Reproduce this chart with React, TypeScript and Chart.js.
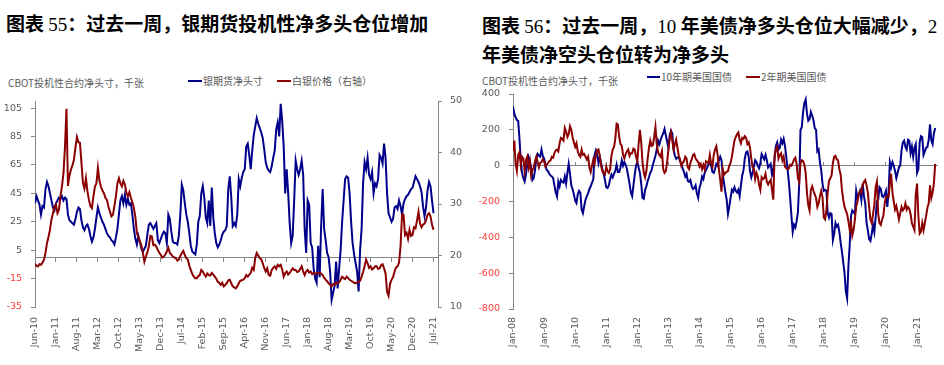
import React, { useEffect, useRef } from 'react';
import { Chart, registerables } from 'chart.js';

Chart.register(...registerables);

// Values are sampled twice a month (index / 2 = months since the first label).
const SAMPLES_PER_MONTH = 2;

// ---------- Chart 55: silver ----------
const silverTickLabels = [
  'Jun-10', 'Jan-11', 'Aug-11', 'Mar-12', 'Oct-12', 'May-13', 'Dec-13', 'Jul-14', 'Feb-15', 'Sep-15',
  'Apr-16', 'Nov-16', 'Jun-17', 'Jan-18', 'Aug-18', 'Mar-19', 'Oct-19', 'May-20', 'Dec-20', 'Jul-21',
];
const silverTickStepMonths = 7;
const silverLeftTicks = [-35, -15, 5, 25, 45, 65, 85, 105];
// 银期货净头寸, 千张 (Jun-10 .. Jul-21)
const silverNetLong = [
  38, 43, 40, 37, 30, 36, 35, 48, 53, 50,
  45, 40, 35, 33, 38, 40, 42, 41, 43, 40,
  42, 41, 30, 26, 25, 24, 23, 27, 32, 35,
  34, 26, 21, 19, 22, 23, 20, 15, 11, 14,
  20, 28, 35, 31, 28, 25, 23, 20, 17, 15,
  14, 12, 11, 9, 14, 20, 30, 40, 43, 38,
  44, 37, 41, 37, 38, 30, 20, 13, 9, 15,
  11, 6, 4, 6, 8, 16, 23, 24, 22, 20,
  22, 24, 12, 10, 13, 16, 18, 17, 10, 30,
  27, 18, 11, 10, 10, 9, 15, 30, 51, 47,
  38, 30, 25, 17, 8, 4, 3, 2, 9, 25,
  29, 45, 50, 42, 28, 24, 40, 22, 49, 28,
  17, 10, 7, 9, 12, 16, 18, 19, 22, 48,
  57, 42, 22, 24, 22, 30, 55, 50, 56, 60,
  62, 78, 80, 72, 62, 75, 86, 92, 98, 94,
  91, 88, 84, 76, 67, 63, 61, 60, 64, 70,
  75, 90, 95, 85, 108, 96, 78, 45, 62, 45,
  24, 10, 15, 40, 68, 62, 58, 62, 68, 58,
  20, 3, 40, 37, 10, 7, -8, -15, -18, 8,
  -14, 22, 48, 20, 12, 3, 0, -10, -30, -25,
  -20, -3, -22, -8, 5, 25, 40, 55, 57, 56,
  45, 25, 10, 2, -4, -10, -24, 5, 20, 52,
  67, 62, 70, 58, 55, 60, 45, 52, 50, 55,
  72, 70, 66, 80, 70, 45, 31, 28, 25, 27,
  35, 36, 34, 40, 36, 30, 38, 41, 43, 44,
  46, 48, 49, 53, 57, 55, 53, 50, 46, 36,
  29, 35, 47, 53, 50, 40,
  31,
];
// 白银价格（右轴）, 美元/盎司
const silverPrice = [
  18.4, 18.0, 17.9, 18.3, 18.2, 18.6, 19.2, 20.5, 22.4, 23.6,
  25, 27, 28.2, 29.5, 29.9, 28.2, 28.9, 31.5, 33.4, 36,
  41, 48.5, 33.5, 35.5, 36.7, 37.5, 38.6, 41, 43, 42,
  41.9, 38, 34.1, 33, 35, 32.5, 30.8, 29.6, 29.2, 31.5,
  33.4, 34, 37, 34.5, 33.4, 32.6, 32.1, 31.2, 30.8, 29.5,
  28.6, 27.6, 27.9, 29.6, 31.5, 34, 35, 34, 33.4, 34.5,
  33.8, 32.2, 31.5, 32.3, 31.2, 30.4, 29.2, 27.5, 24.4, 23.5,
  22.7, 22, 20.5, 18.8, 19.8, 20.6, 21.8, 23.8, 23.7, 22,
  22.1, 21.7, 21.1, 20.5, 20.1, 19.6, 19.8, 20.2, 20.8, 21.5,
  20.5, 20.2, 19.8, 19.6, 19.5, 19, 19.2, 19.9, 20.5, 20.9,
  20.1, 19.5, 19.2, 18, 17.2, 16.4, 15.9, 15.6, 15.6, 16,
  16.2, 17.2, 16.9, 16.3, 15.9, 16.5, 16.2, 16.1, 16.6, 16.3,
  15.9, 15.5, 14.9, 14.7, 14.3, 14.7, 14, 14.3, 14.6, 15.2,
  15.3, 14.6, 14, 13.8, 13.6, 14, 14.6, 15.1, 15.2, 15.3,
  15.6, 16.2, 15.9, 16.3, 16.6, 17.6, 17.2, 19.5, 20.5, 20,
  19.5, 19.3, 18.5, 17.6, 16.9, 17.5, 16.2, 16.1, 17.2, 17.6,
  17.9, 17.4, 18.2, 17.9, 18.2, 17.3, 15.9, 16.6, 16.9, 16.3,
  16.6, 17.1, 17.5, 17.2, 17.2, 16.8, 16.9, 17.4, 17.9, 16.9,
  16.2, 16.9, 17.2, 16.7, 16.9, 16.4, 16.6, 16.4, 16.6, 16.5,
  16.6, 16.5, 16.2, 15.7, 15.3, 15, 14.6, 14.3, 14, 14.5,
  14.3, 14.7, 14.6, 14.8, 15.3, 15.9, 15.6, 15.4, 15.9, 15.6,
  15.3, 15.1, 14.9, 14.7, 14.6, 14.8, 14.9, 15.1, 15.9, 16.8,
  17.9, 19.2, 18.5, 17.6, 17.9, 17.3, 17.5, 17.9, 17.9, 17.4,
  17.5, 18.1, 18.3, 17.5, 16.5, 13, 12.2, 14.5, 15.3, 15.8,
  16.9, 17.7, 17.9, 18.6, 21.8, 28, 27.9, 24, 24.4, 23.2,
  25, 23.8, 24, 25.5, 25.3, 26.8, 28.5, 26.2, 25.5, 26,
  26.2, 26.8, 27.9, 28.2, 27.6, 26,
  25,
];

// ---------- Chart 56: US Treasuries ----------
const ustTickLabels = [
  'Jan-08', 'Jan-09', 'Jan-10', 'Jan-11', 'Jan-12', 'Jan-13', 'Jan-14',
  'Jan-15', 'Jan-16', 'Jan-17', 'Jan-18', 'Jan-19', 'Jan-20', 'Jan-21',
];
const ustTickStepMonths = 12;
// 10年期美国国债, 千张 (Jan-08 .. Aug-21)
const ust10y = [
  330, 290, 270, 255, 250, 150, 30, -40, -70, -88,
  -50, 10, 50, 30, -15, -80, -70, -25, 40, 65,
  55, 50, 90, 55, 40, 10, -25, -30, -45, -55,
  -60, -70, -110, -150, -172, -90, -115, -80, -90, -95,
  -60, -100, -40, 10, -45, -110, -130, -160, -195, -209,
  -160, -140, -150, -245, -265, -225, -190, -170, -155, -130,
  -115, -95, -78, 60, 85, 60, 15, 50, 15, -20,
  -45, -80, -120, -125, -110, -75, -50, -65, -45, -30,
  5, -35, -35, -10, 30, 0, 20, 5, -20, -60,
  -100, -150, -170, -110, -50, 0, 20, -10, -40, -100,
  -180, -185, -135, -115, -85, -65, -40, -25, 5, 30,
  55, 90, 140, 120, 145, 165, 180, 205, 170, 135,
  100, 170, 195, 180, 90, 55, 38, 45, 45, 25,
  5, -15, -35, -60, -45, -85, -90, -80, -115, -130,
  -125, -110, -155, -180, -125, -100, -60, -75, -40, -25,
  -10, 10, 22, 0, -35, -40, -20, 10, 0, 30,
  50, 30, -50, -100, -150, -190, -270, -230, -180, -135,
  -145, -120, -140, -150, -135, -170, -110, -55, -25, 40,
  75, 80, 50, -30, -65, -40, -5, 30, 20, 0,
  -15, 15, 65, 50, 35, 60, 30, -10, 0, 10,
  -50, -20, 40, 110, 130, 90, 100, 145, 125, 150,
  110, 50, -20, -90, -180, -280, -370, -330, -345, -310,
  -260, -100, 200, 215, 300, 350, 370, 290, 250, 260,
  300, 280, 255, 210, 200, 80, 90, 20, -25, -100,
  -140, -135, -140, -265, -290, -265, -270, -415, -380, -320,
  -340, -330, -370, -430, -480, -540, -600, -700, -740, -560,
  -440, -280, -250, -260, -270, -140, -180, -160, -140, -190,
  -100, -170, -210, -320, -360, -410, -420, -380, -330, -370,
  -290, -200, -190, -120, -130, -170, -175, -160, -140, -230,
  -150, 20, -10, 20, 0, -30, -70, -40, -10, 0,
  85, 130, 140, 105, 90, 145, 140, 70, 105, 50,
  100, 120, -40, -20, 130, 165, 160, 60, 80, 100,
  105, 145, 230, 140, 120, 180,
  210,
];
// 2年期美国国债, 千张
const ust2y = [
  80, 140, 10, -30, 60, 75, 5, 50, 40, -30,
  30, 50, -10, 25, -55, -25, -10, 25, 50, 20,
  -10, 15, 20, 35, 25, -5, 5, 15, 25, 30,
  50, 45, 70, 85, 90, 80, 125, 155, 150, 140,
  210, 190, 160, 175, 220, 200, 160, 130, 105, 125,
  80, 60, 50, 90, 60, 65, 50, 35, 50, -10,
  -35, 0, 35, 10, 60, 85, 90, 55, 0, -30,
  -45, -50, -5, -30, -40, -20, 55, 90, 105, 150,
  235, 230, 160, 120, 110, 60, 40, 65, 80, 90,
  55, 70, 70, 95, 90, 50, 25, 120, 200, 130,
  20, -40, -65, -30, 40, 100, 140, 110, 115, 160,
  215, 120, 75, 60, 50, 80, -20, -40, -30, 20,
  90, 150, 185, 140, 90, 120, 145, 100, 55, 35,
  0, 15, 25, 50, 40, -10, -20, 15, 35, 60,
  65, 40, 30, 20, -5, 10, -20, 5, -20, 25,
  20, 15, 60, 10, -5, 60, 90, 108, 60, -20,
  -80, -145, -20, -50, -40, -35, -30, 0, 15, 50,
  95, 140, 160, 175, 185, 145, 125, 155, 150, 165,
  155, 120, 130, 100, 40, -10, -20, -75, -40, -60,
  -105, -135, -65, -75, -70, -45, -90, -105, -90, -80,
  -135, -190, 60, 90, 105, 40, 60, 70, 30, 50,
  -5, -15, -20, -15, 5, 0, 15, 35, 45, 10,
  -70, -90, 15, 30, 25, 5, -40, -150, -220, -250,
  -135, -115, -140, -160, -180, -230, -210, -170, -140, -175,
  -290, -300, -250, -150, -85, -70, -55, 15, 50, 55,
  35, 30, -20, -50, -135, -190, -230, -250, -270, -310,
  -360, -320, -390, -360, -300, -230, -200, -160, -140, -150,
  -110, -90, -80, -110, -150, -230, -300, -320, -270, -220,
  -120, -90, -270, -320, -330, -300, -280, -210, -175, -170,
  -175, -100, -45, -150, -200, -245, -225, -260, -300, -265,
  -230, -250, -240, -210, -245, -230, -240, -270, -320, -340,
  -360, -160, -100, -280, -380, -370, -320, -360, -320, -280,
  -235, -210, -110, -180, -150, -100,
  10,
];

// ---------- styles ----------
const AXIS_GREY = '#868686';
const LABEL_GREY = '#595959';
const NEG_RED = '#ff3b3b';
const BLUE = '#00008b';
const RED = '#8b0000';
const TICK_FONT = '"DejaVu Sans", sans-serif';
const CJK = '"Noto Sans CJK SC", "Noto Sans", sans-serif';
const SERIF = '"Liberation Serif", "DejaVu Serif", serif';

const toPoints = (values: number[]) => values.map((y, i) => ({ x: i / SAMPLES_PER_MONTH, y }));
const setTicks = (values: number[]) => (scale: any) => {
  scale.ticks = values.map((value) => ({ value }));
};

function lineDataset(label: string, values: number[], color: string, yAxisID: string, order: number) {
  return {
    label,
    data: toPoints(values),
    borderColor: color,
    backgroundColor: color,
    borderWidth: 2,
    pointRadius: 0,
    tension: 0,
    xAxisID: 'x',
    yAxisID,
    order,
  };
}

function silverConfig(): any {
  const tickMonths = silverTickLabels.map((_, i) => i * silverTickStepMonths);
  const xMax = 134.5;
  return {
    type: 'line',
    data: {
      datasets: [
        lineDataset('银期货净头寸', silverNetLong, BLUE, 'y', 1),
        lineDataset('白银价格（右轴）', silverPrice, RED, 'y1', 0),
      ],
    },
    options: {
      animation: false,
      responsive: false,
      maintainAspectRatio: false,
      layout: { padding: { top: 16, right: 0, left: 0, bottom: 0 } },
      plugins: { legend: { display: false }, tooltip: { enabled: false } },
      scales: {
        x: {
          type: 'linear',
          min: 0,
          max: xMax,
          position: { y: 0 },
          ticks: { display: false },
          grid: { drawOnChartArea: false, drawTicks: true, tickLength: 4, color: AXIS_GREY },
          border: { color: AXIS_GREY, width: 1 },
          afterBuildTicks: setTicks(tickMonths),
        },
        xb: {
          type: 'linear',
          position: 'bottom',
          min: 0,
          max: xMax,
          grid: { display: false, drawTicks: false },
          border: { display: false },
          ticks: {
            autoSkip: false,
            minRotation: 90,
            maxRotation: 90,
            padding: 10,
            color: LABEL_GREY,
            font: { family: TICK_FONT, size: 9.5 },
            callback: (_v: any, i: number) => silverTickLabels[i],
          },
          afterBuildTicks: setTicks(tickMonths),
          afterFit: (s: any) => { s.height = 58; },
        },
        y: {
          type: 'linear',
          position: 'left',
          min: -35,
          max: 110,
          afterBuildTicks: setTicks(silverLeftTicks),
          grid: { drawOnChartArea: false, drawTicks: true, tickLength: 4, color: AXIS_GREY },
          border: { color: AXIS_GREY },
          ticks: {
            padding: 9,
            color: (c: any) => (c.tick && c.tick.value < 0 ? NEG_RED : LABEL_GREY),
            font: { family: TICK_FONT, size: 9.5 },
          },
          afterFit: (s: any) => { s.width = 35; },
        },
        y1: {
          type: 'linear',
          position: 'right',
          min: 10,
          max: 50,
          ticks: { stepSize: 10, padding: 8, color: LABEL_GREY, font: { family: TICK_FONT, size: 9.5 } },
          grid: { drawOnChartArea: false, drawTicks: true, tickLength: 4, color: AXIS_GREY },
          border: { color: AXIS_GREY },
          afterFit: (s: any) => { s.width = 32; },
        },
      },
    },
  };
}

function ustConfig(): any {
  const tickMonths = ustTickLabels.map((_, i) => i * ustTickStepMonths);
  const xMax = 163.7;
  return {
    type: 'line',
    data: {
      datasets: [
        lineDataset('10年期美国国债', ust10y, BLUE, 'y', 1),
        lineDataset('2年期美国国债', ust2y, RED, 'y', 0),
      ],
    },
    options: {
      animation: false,
      responsive: false,
      maintainAspectRatio: false,
      layout: { padding: { top: 15, right: 7, left: 0, bottom: 0 } },
      plugins: { legend: { display: false }, tooltip: { enabled: false } },
      scales: {
        x: {
          type: 'linear',
          min: 0,
          max: xMax,
          position: { y: 0 },
          ticks: { display: false },
          grid: { drawOnChartArea: false, drawTicks: true, tickLength: -4, color: AXIS_GREY },
          border: { color: AXIS_GREY, width: 1 },
          afterBuildTicks: setTicks(tickMonths),
        },
        xb: {
          type: 'linear',
          position: 'bottom',
          min: 0,
          max: xMax,
          grid: { display: false, drawTicks: false },
          border: { display: false },
          ticks: {
            autoSkip: false,
            minRotation: 90,
            maxRotation: 90,
            padding: 8,
            color: LABEL_GREY,
            font: { family: TICK_FONT, size: 9.5 },
            callback: (_v: any, i: number) => ustTickLabels[i],
          },
          afterBuildTicks: setTicks(tickMonths),
          afterFit: (s: any) => { s.height = 56; },
        },
        y: {
          type: 'linear',
          position: 'left',
          min: -800,
          max: 400,
          ticks: {
            stepSize: 200,
            padding: 9,
            color: (c: any) => (c.tick && c.tick.value < 0 ? NEG_RED : LABEL_GREY),
            font: { family: TICK_FONT, size: 9.5 },
          },
          grid: { drawOnChartArea: false, drawTicks: true, tickLength: 4, color: AXIS_GREY },
          border: { color: AXIS_GREY },
          afterFit: (s: any) => { s.width = 43; },
        },
      },
    },
  };
}

function ChartCanvas({ makeConfig, left, top, width, height }: any) {
  const ref = useRef<HTMLCanvasElement | null>(null);
  useEffect(() => {
    if (!ref.current) return;
    const chart = new Chart(ref.current, makeConfig());
    return () => chart.destroy();
  }, [makeConfig]);
  return (
    <canvas
      ref={ref}
      width={width}
      height={height}
      style={{ position: 'absolute', left, top, width, height }}
    />
  );
}

const smallText = (left: number, center: number): React.CSSProperties => ({
  position: 'absolute',
  left,
  top: center - 7,
  fontSize: 10,
  lineHeight: '14px',
  color: LABEL_GREY,
  fontFamily: CJK,
  whiteSpace: 'nowrap',
});

const swatch = (left: number, center: number, width: number, color: string): React.CSSProperties => ({
  position: 'absolute',
  left,
  top: center - 1.25,
  width,
  height: 2.5,
  background: color,
});

const titleStyle = (left: number, top: number): React.CSSProperties => ({
  position: 'absolute',
  left,
  top,
  fontSize: 19,
  lineHeight: '26.5px',
  fontWeight: 700,
  color: '#000',
  fontFamily: CJK,
  whiteSpace: 'nowrap',
});

const num: React.CSSProperties = { fontFamily: SERIF, fontWeight: 400 };

export default function App() {
  return (
    <div
      style={{
        position: 'fixed',
        left: 0,
        top: 0,
        width: 944,
        height: 365,
        background: '#ffffff',
        overflow: 'hidden',
      }}
    >
      {/* Left chart */}
      <div style={titleStyle(6, 10)}>
        图表 <span style={num}>55</span>：过去一周，银期货投机性净多头仓位增加
      </div>
      <div style={smallText(8, 83)}>CBOT投机性合约净头寸，千张</div>
      <div style={swatch(188, 81, 14, BLUE)} />
      <div style={smallText(203, 81)}>银期货净头寸</div>
      <div style={swatch(277, 81, 14, RED)} />
      <div style={smallText(292, 81)}>白银价格（右轴）</div>
      <ChartCanvas makeConfig={silverConfig} left={0} top={85} width={470} height={280} />

      {/* Right chart */}
      <div style={titleStyle(482, 12)}>
        图表 <span style={num}>56</span>：过去一周，<span style={num}>10</span> 年美债净多头仓位大幅减少，<span style={num}>2</span>
        <br />
        年美债净空头仓位转为净多头
      </div>
      <div style={smallText(482, 81)}>CBOT投机性合约净头寸，千张</div>
      <div style={swatch(647, 77, 13, BLUE)} />
      <div style={smallText(661, 77)}>10年期美国国债</div>
      <div style={swatch(746, 77, 14, RED)} />
      <div style={smallText(761, 77)}>2年期美国国债</div>
      <ChartCanvas makeConfig={ustConfig} left={470} top={79} width={474} height={286} />
    </div>
  );
}
